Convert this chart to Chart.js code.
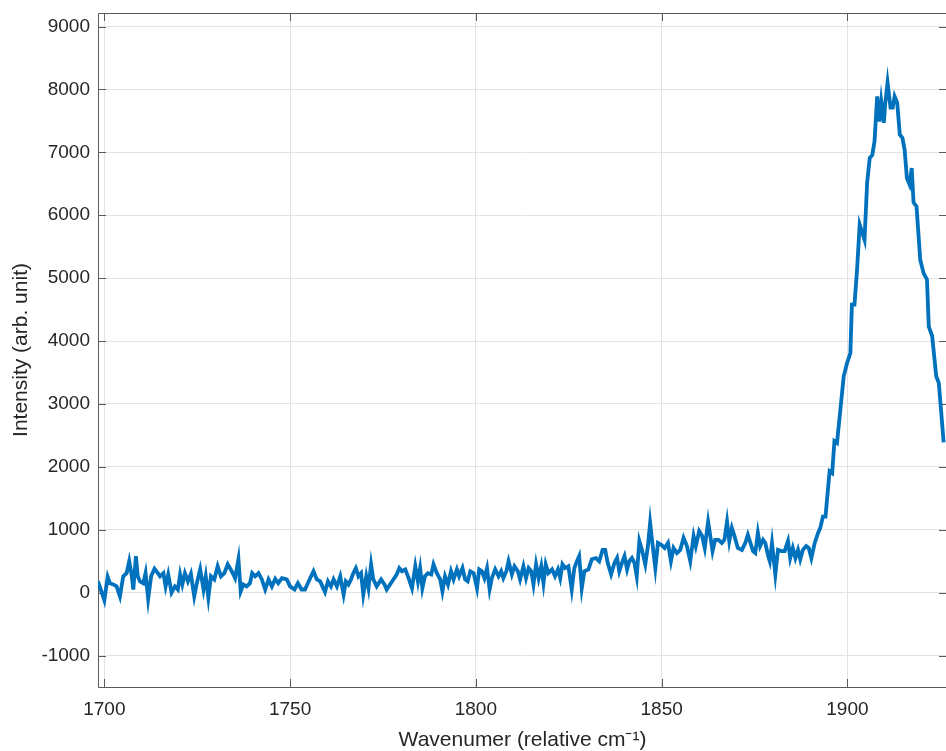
<!DOCTYPE html>
<html>
<head>
<meta charset="utf-8">
<title>Raman spectrum</title>
<script src="https://cdn.jsdelivr.net/npm/chart.js@4.4.1/dist/chart.umd.min.js"></script>
<style>
  html, body { margin: 0; padding: 0; background: #fff; overflow: hidden; }
</style>
</head>
<body>
<canvas id="spectrum" width="947" height="751"></canvas>
<script>
// wavenumber axis (relative cm-1) and measured intensity, point by point
var wavenumber = [
  1698.3,1700.0,1700.9,1701.5,1702.4,1703.3,1704.2,1705.1,1706.0,1706.7,1707.4,1707.8,1708.5,1709.0,1709.6,1710.5,
  1711.1,1711.8,1712.6,1713.5,1714.4,1715.0,1715.9,1716.5,1717.2,1718.1,1719.0,1719.8,1720.4,1721.0,1721.7,1722.5,
  1723.3,1724.2,1724.9,1725.8,1726.7,1727.3,1728.0,1728.7,1729.6,1730.5,1731.4,1732.3,1733.2,1734.3,1735.2,1736.1,
  1736.7,1737.4,1738.3,1739.2,1739.8,1740.6,1741.5,1742.4,1743.3,1744.2,1745.1,1746.0,1746.8,1747.8,1749.1,1750.0,
  1751.2,1752.1,1753.1,1754.0,1755.4,1756.3,1757.2,1758.1,1758.7,1759.4,1760.2,1761.0,1761.7,1762.6,1763.5,
  1764.4,1765.0,1765.7,1766.4,1767.0,1767.7,1768.4,1769.1,1769.7,1770.5,1771.1,1771.8,1772.4,1773.3,1774.5,1775.4,
  1776.0,1776.9,1777.8,1778.7,1779.4,1780.1,1781.0,1781.9,1782.8,1783.7,1784.4,1785.0,1785.6,1786.3,1787.1,1788.0,
  1788.6,1789.5,1790.4,1791.0,1791.7,1792.5,1793.3,1794.0,1794.9,1795.5,1796.4,1797.1,1797.8,1798.5,1799.4,1800.3,
  1800.9,1801.6,1802.3,1803.0,1803.7,1804.3,1805.2,1806.1,1806.8,1807.4,1808.2,1808.8,1809.7,1810.4,1811.3,1811.9,
  1812.8,1813.5,1814.2,1814.9,1815.5,1816.2,1816.9,1817.6,1818.2,1818.8,1819.5,1820.5,1821.3,1822.1,1822.7,1823.3,
  1824.0,1824.9,1825.8,1826.5,1827.2,1827.8,1828.5,
  1829.2,1830.3,1831.2,1832.3,1833.2,1834.1,1834.8,1835.5,1836.4,1837.3,1838.0,1838.6,1839.3,1840.0,1840.7,1841.3,
  1842.0,1842.7,1843.3,1844.0,1844.7,1845.6,1846.3,1846.9,1847.5,1848.3,1849.0,1849.9,1850.8,1851.7,1852.5,1853.2,
  1854.1,1855.0,1855.9,1856.8,1857.7,1858.6,1859.2,1860.1,1860.9,1861.6,1862.5,1863.1,1863.7,1864.4,1865.3,1866.2,
  1866.9,1867.6,1868.2,1868.9,1869.6,1870.5,1871.6,1872.5,1873.2,1873.9,1874.6,1875.2,1875.9,1876.5,1877.3,1877.9,
  1878.6,1879.1,1879.7,1880.6,1881.3,1882.2,1883.1,1884.0,1884.6,1885.3,1886.0,1886.7,1887.3,1888.0,1888.9,1889.6,
  1890.3,1891.2,1892.1,1892.7,
  1893.4,1894.1,1895.2,1895.9,1896.5,1897.2,1898.1,1899.0,1899.9,1900.8,1901.2,1901.9,1902.6,1903.3,1904.6,1905.3,
  1906.0,1906.7,1907.3,1908.0,1908.6,1909.1,1909.8,1910.2,1910.8,1911.6,1912.2,1912.7,1913.4,1914.1,1914.8,1915.4,
  1916.0,1916.7,1917.3,1917.8,1918.6,1919.6,1920.5,1921.4,1921.9,1922.8,1923.9,1924.6,1925.9
];
var intensity = [
  180,-120,250,150,130,100,-60,260,310,500,260,50,580,260,180,150,
  310,-100,260,380,310,260,310,100,290,0,100,50,290,130,310,180,
  300,-60,150,370,50,260,-80,260,210,420,260,310,450,340,230,530,
  20,130,100,150,310,260,310,210,50,210,100,220,150,230,210,100,
  50,150,50,50,230,340,210,180,100,10,180,100,210,100,260,
  -30,180,130,210,310,390,260,310,-30,260,70,450,210,100,210,130,
  50,130,210,290,390,340,370,230,70,420,180,390,70,260,310,290,
  450,310,210,20,260,130,340,210,370,260,390,210,180,340,310,70,
  370,340,230,390,50,230,370,260,340,230,340,500,290,420,340,210,
  420,230,390,340,130,450,230,420,150,450,310,370,260,370,230,450,
  390,420,50,390,500,580,70,
  340,370,530,550,500,680,680,470,290,470,550,340,470,580,370,500,
  550,470,260,820,680,450,740,1110,790,390,790,760,710,790,500,710,
  630,680,870,740,500,900,740,980,900,710,1130,900,660,840,840,790,
  840,1130,820,1030,900,710,680,790,920,790,660,630,950,740,840,790,
  600,500,790,290,680,660,660,820,550,710,550,680,530,680,740,710,
  550,790,950,1030,
  1210,1210,1930,1900,2410,2380,2910,3440,3650,3810,4580,4580,5140,5850,5610,6510,
  6910,6960,7180,7890,7490,7810,7470,7790,8110,7710,7710,7890,7790,7280,7230,7040,
  6590,6490,6750,6200,6140,5290,5080,4980,4230,4080,3440,3330,2390
];

// tick positions on both axes
var xTicks = [1700, 1750, 1800, 1850, 1900];
var yTicks = [-1000, 0, 1000, 2000, 3000, 4000, 5000, 6000, 7000, 8000, 9000];

var xMin = 1698.3, xMax = 1926.8;
var yMin = -1500, yMax = 9215;

var axisColor = '#5a5a5a';
var textColor = '#262626';
var gridColor = '#e3e3e3';
var font = { family: "'Liberation Sans', Helvetica, Arial, sans-serif", size: 19 };
var titleFont = { family: font.family, size: 21, lineHeight: 1 };

var points = wavenumber.map(function (w, i) { return { x: w, y: intensity[i] }; });

function setTicks(values) {
  return function (scale) {
    scale.ticks = values.map(function (v) { return { value: v }; });
  };
}

// box around the axes with inward tick marks on all four sides
var axesBox = {
  id: 'axesBox',
  beforeDatasetsDraw: function (chart) {
    var ctx = chart.ctx, a = chart.chartArea;
    var sx = chart.scales.x, sy = chart.scales.y;
    var len = 8;
    ctx.save();
    ctx.strokeStyle = axisColor;
    ctx.lineWidth = 1;
    ctx.beginPath();
    sx.ticks.forEach(function (t) {
      var px = Math.round(sx.getPixelForValue(t.value)) + 0.5;
      ctx.moveTo(px, a.bottom); ctx.lineTo(px, a.bottom - len);
      ctx.moveTo(px, a.top); ctx.lineTo(px, a.top + len);
    });
    sy.ticks.forEach(function (t) {
      var py = Math.round(sy.getPixelForValue(t.value)) + 0.5;
      ctx.moveTo(a.left, py); ctx.lineTo(a.left + len, py);
      ctx.moveTo(a.right, py); ctx.lineTo(a.right - len, py);
    });
    ctx.rect(Math.round(a.left) + 0.5, Math.round(a.top) + 0.5, Math.round(a.width), Math.round(a.height));
    ctx.stroke();
    ctx.restore();
  }
};

var chart = new Chart(document.getElementById('spectrum'), {
  type: 'line',
  data: {
    datasets: [{
      data: points,
      borderColor: '#0072BD',
      borderWidth: 3.8,
      pointRadius: 0,
      tension: 0,
      fill: false
    }]
  },
  options: {
    responsive: false,
    animation: false,
    parsing: false,
    layout: { padding: { top: 13, left: 0, right: 0, bottom: 0 } },
    plugins: { legend: { display: false }, tooltip: { enabled: false } },
    scales: {
      x: {
        type: 'linear',
        min: xMin,
        max: xMax,
        afterBuildTicks: setTicks(xTicks),
        afterFit: function (s) { s.height = 64; s.paddingLeft = 0; s.paddingRight = 0; },
        grid: { color: gridColor, drawTicks: false },
        border: { display: false },
        ticks: {
          autoSkip: false,
          maxRotation: 0,
          padding: 11,
          color: textColor,
          font: font,
          callback: function (v) { return String(v); }
        },
        title: {
          display: true,
          text: 'Wavenumer (relative cm\u207B\u00B9)',
          color: textColor,
          font: titleFont,
          padding: { top: 0, bottom: 0 }
        }
      },
      y: {
        min: yMin,
        max: yMax,
        afterBuildTicks: setTicks(yTicks),
        afterFit: function (s) { s.width = 98; s.paddingTop = 0; s.paddingBottom = 0; },
        grid: { color: gridColor, drawTicks: false },
        border: { display: false },
        ticks: {
          autoSkip: false,
          padding: 8,
          color: textColor,
          font: font,
          callback: function (v) { return String(v); }
        },
        title: {
          display: true,
          text: 'Intensity (arb. unit)',
          color: textColor,
          font: titleFont,
          padding: { top: 11, bottom: 0 }
        }
      }
    }
  },
  plugins: [axesBox]
});
</script>
</body>
</html>
